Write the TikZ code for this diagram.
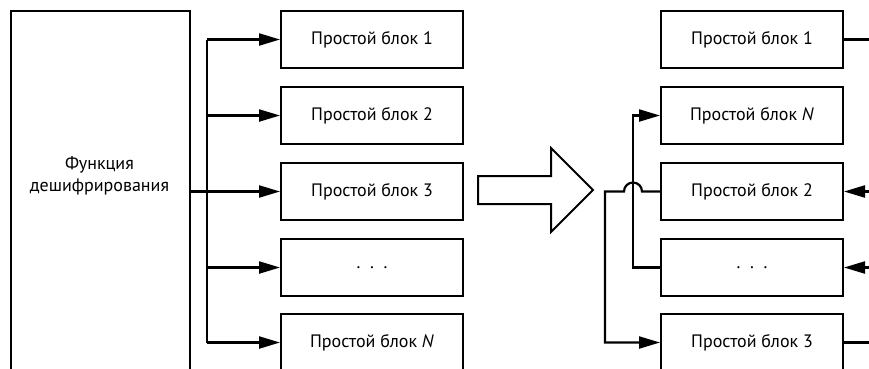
\documentclass[tikz,border=0pt]{standalone}
\usepackage{fontspec}
\setmainfont{PT Sans}
\usetikzlibrary{arrows.meta}
\begin{document}
\begin{tikzpicture}[x=1pt,y=-1pt,
  ln/.style={line width=2.2pt},
  blk/.style={draw, line width=2pt, minimum width=182pt, minimum height=57pt, inner sep=0pt,
    font=\fontsize{18}{21}\selectfont, anchor=north west},
  arr/.style={ln, -{Triangle[length=21pt,width=12pt]}},
  lbl/.style={font=\fontsize{18}{22}\selectfont, align=center, inner sep=0pt}]
\useasboundingbox (0,0) rectangle (869,368);
\clip (0,0) rectangle (869,368);
% big box
\node[draw, line width=2pt, minimum width=179pt, minimum height=400pt, inner sep=0pt, anchor=north west] (fn) at (10,10) {};
\node[lbl] (fntext) at (99.5,176) {Функция\\дешифрирования};
% left boxes
\node[blk] (a1) at (280,10) {Простой блок 1};
\node[blk] (a2) at (280,86) {Простой блок 2};
\node[blk] (a3) at (280,162) {Простой блок 3};
\node[blk] (a4) at (280,238) {.\ \ .\ \ .};
\node[blk] (a5) at (280,313) {Простой блок \textit{N}};
\coordinate (bus) at (207,0);
\draw[ln] (fn.east |- a3.west) -- (a3.west -| bus);
\draw[ln] (a1.west -| bus) -- (a5.west -| bus);
\foreach \i in {1,...,5} \draw[arr] (a\i.west -| bus) -- (a\i.west);
% big arrow
\draw[line width=2pt, line join=miter] (478,176) -- (551,176) -- (551,148) -- (593,190) -- (551,232) -- (551,204) -- (478,204) -- cycle;
% right boxes
\node[blk] (r1) at (660,10) {Простой блок 1};
\node[blk] (rN) at (660,86) {Простой блок \textit{N}};
\node[blk] (r2) at (660,162) {Простой блок 2};
\node[blk] (rd) at (660,238) {.\ \ .\ \ .};
\node[blk] (r3) at (660,313) {Простой блок 3};
\coordinate (edge) at (880,0);
\coordinate (xa) at (633,0);
\coordinate (xb) at (605,0);
\draw[ln] (r1.east) -- (r1.east -| edge);
\draw[ln] (r3.east) -- (r3.east -| edge);
\draw[arr] (r2.east -| edge) -- (r2.east);
\draw[arr] (rd.east -| edge) -- (rd.east);
\draw[arr] (rd.west) -- (rd.west -| xa) -- (rN.west -| xa) -- (rN.west);
\draw[arr] (r2.west) -- ([xshift=9pt]r2.west -| xa) arc[start angle=0, end angle=180, radius=9pt] -- (r2.west -| xb) -- (r3.west -| xb) -- (r3.west);
\end{tikzpicture}
\end{document}
